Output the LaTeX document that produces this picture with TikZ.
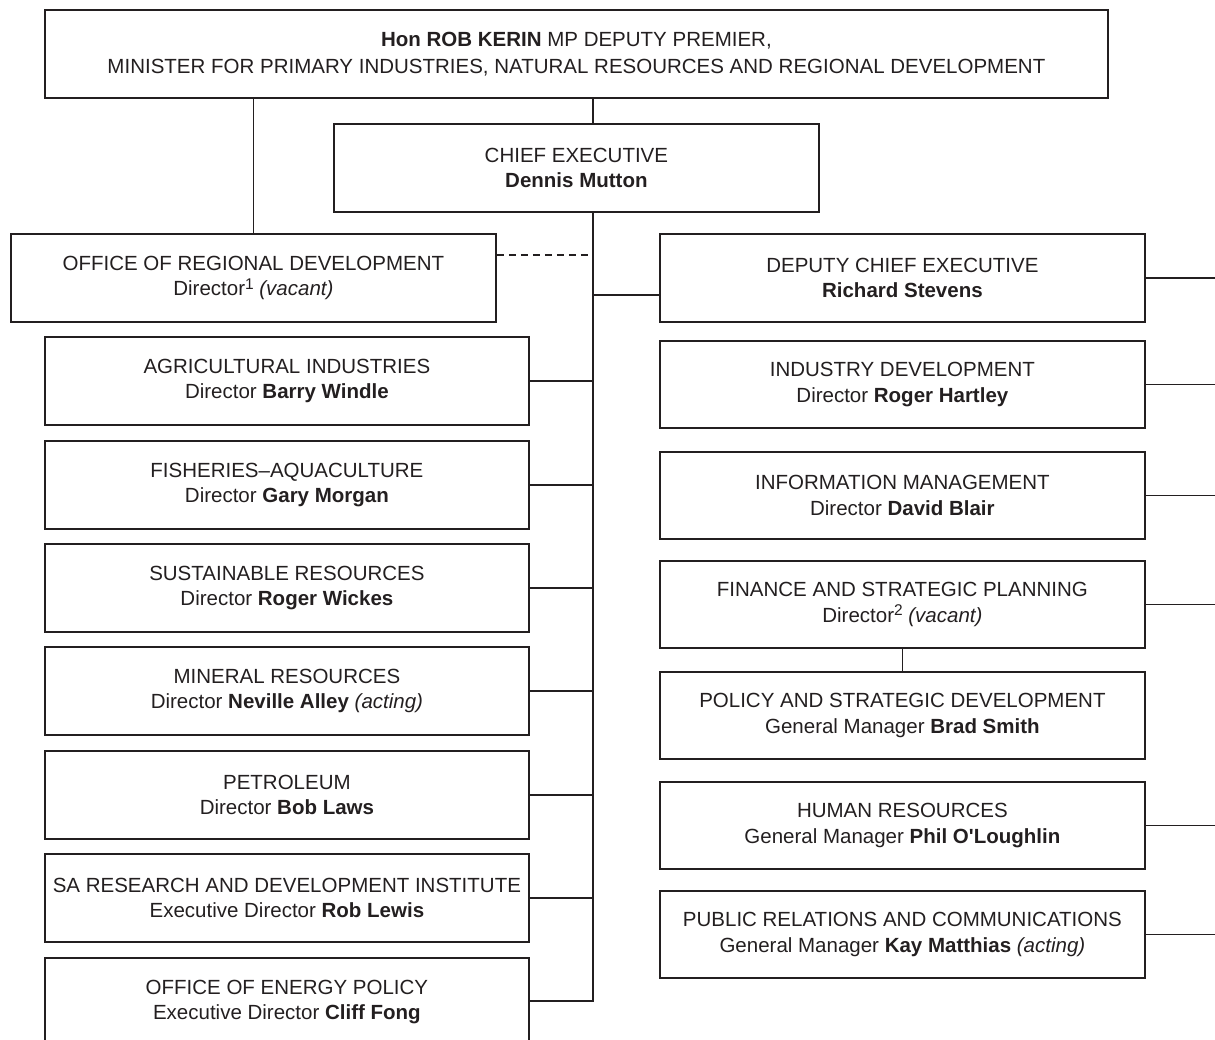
\documentclass[tikz,border=0pt]{standalone}
\usepackage{fontspec}
\setmainfont{Liberation Sans}
\newfontfamily\plainsans{Liberation Sans}
\definecolor{ink}{HTML}{231F20}
\newcommand{\supnum}[1]{\raisebox{0.32em}{\fontsize{15.5}{15.5}\selectfont #1}}
\newcommand{\sapos}{{\plainsans\bfseries '}}
\begin{document}
\begin{tikzpicture}[x=1pt,y=-1pt,
  box/.style={draw=ink, line width=1.8pt, inner sep=0pt, anchor=north west,
    align=center, text=ink, font=\fontsize{20.5}{25.5}\selectfont,
    minimum height=88pt},
  lbox/.style={box, minimum width=484pt},
  rbox/.style={box, minimum width=485pt, minimum height=87pt},
  conn/.style={draw=ink, line width=1.2pt},
  dconn/.style={conn, dash pattern=on 7pt off 5pt}]
\useasboundingbox (0,0) rectangle (1215,1039);
\clip (0,0) rectangle (1215,1039);

% top levels
\node[box, minimum width=1063pt, font=\fontsize{20.5}{27}\selectfont] (top) at (44,9)
  {\textbf{Hon ROB KERIN} MP DEPUTY PREMIER,\\MINISTER FOR PRIMARY INDUSTRIES, NATURAL RESOURCES AND REGIONAL DEVELOPMENT};
\node[box, minimum width=485pt] (ce) at (333,123) {CHIEF EXECUTIVE\\\textbf{Dennis Mutton}};
\node[box, minimum width=485pt] (ord) at (10,233) {OFFICE OF REGIONAL DEVELOPMENT\\Director\supnum{1} \textit{(vacant)}};
\node[box, minimum width=485pt] (dce) at (659,233) {DEPUTY CHIEF EXECUTIVE\\\textbf{Richard Stevens}};

% left column
\node[lbox] (ai)  at (44,336) {AGRICULTURAL INDUSTRIES\\Director \textbf{Barry Windle}};
\node[lbox] (fa)  at (44,440) {FISHERIES–AQUACULTURE\\Director \textbf{Gary Morgan}};
\node[lbox] (sr)  at (44,543) {SUSTAINABLE RESOURCES\\Director \textbf{Roger Wickes}};
\node[lbox] (mr)  at (44,646) {MINERAL RESOURCES\\Director \textbf{Neville Alley} \textit{(acting)}};
\node[lbox] (pet) at (44,750) {PETROLEUM\\Director \textbf{Bob Laws}};
\node[lbox] (sardi) at (44,853) {SA RESEARCH AND DEVELOPMENT INSTITUTE\\Executive Director \textbf{Rob Lewis}};
\node[lbox] (oep) at (44,957) {OFFICE OF ENERGY POLICY\\Executive Director \textbf{Cliff Fong}};

% right column
\node[rbox] (id)  at (659,340) {INDUSTRY DEVELOPMENT\\Director \textbf{Roger Hartley}};
\node[rbox] (im)  at (659,451) {INFORMATION MANAGEMENT\\Director \textbf{David Blair}};
\node[rbox] (fsp) at (659,560) {FINANCE AND STRATEGIC PLANNING\\Director\supnum{2} \textit{(vacant)}};
\node[rbox] (psd) at (659,671) {POLICY AND STRATEGIC DEVELOPMENT\\General Manager \textbf{Brad Smith}};
\node[rbox] (hr)  at (659,781) {HUMAN RESOURCES\\General Manager \textbf{Phil O\sapos Loughlin}};
\node[rbox] (prc) at (659,890) {PUBLIC RELATIONS AND COMMUNICATIONS\\General Manager \textbf{Kay Matthias} \textit{(acting)}};

% spine coordinates
\coordinate (sptop) at (593,97);
\coordinate (spce) at (593,211);
\coordinate (spend) at (593,1001);
\coordinate (dashend) at (590,255);
\coordinate (edge) at (1215,0);

% connectors
\draw[conn] (ord.north) -- (ord.north |- top.south);
\draw[conn] (sptop) -- (sptop |- ce.north);
\draw[conn] (spce) -- (spend) -- (spend -| oep.east);
\draw[dconn] (dashend -| ord.east) -- (dashend);
\draw[conn] (spce |- 0,295) -- (dce.west |- 0,295);
\foreach \n in {ai,fa,sr,mr,pet,sardi}
  \draw[conn] (\n.east) -- (\n.east -| spce);
\foreach \n in {dce,id,im,fsp,hr,prc}
  \draw[conn] (\n.east) -- (\n.east -| edge);
\draw[conn] (fsp.south) -- (psd.north);
\end{tikzpicture}
\end{document}
